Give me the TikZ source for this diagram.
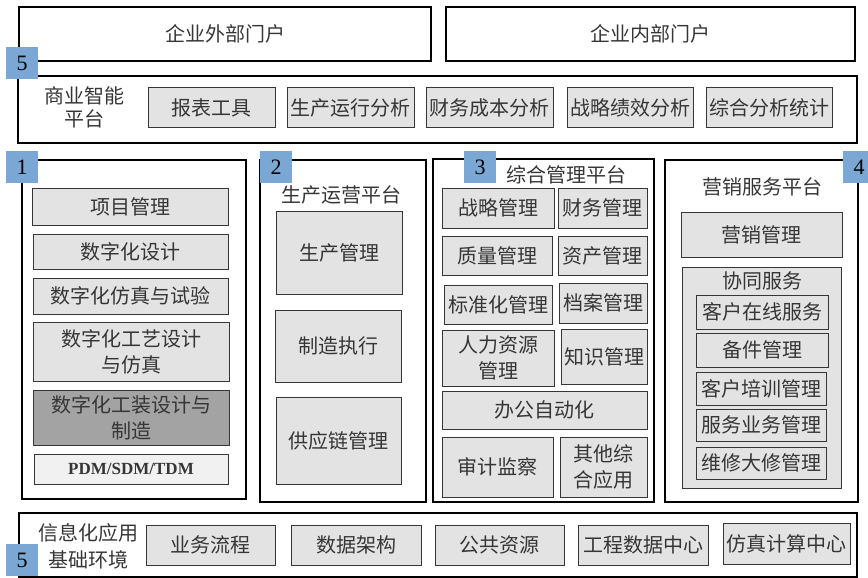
\documentclass[tikz,border=0pt]{standalone}
\usepackage{fontspec}
\setmainfont{Liberation Serif}
\newfontfamily\cjk{Noto Sans CJK SC}
\definecolor{badgeblue}{HTML}{7BA7D5}
\definecolor{itemgray}{HTML}{E3E3E3}
\definecolor{darkgray}{HTML}{A3A3A3}
\definecolor{inkgray}{HTML}{363636}

\begin{document}
\begin{tikzpicture}[x=1pt,y=-1pt,inner sep=0pt,
  frame/.style={draw=black,line width=2pt},
  portal/.style={draw=black,line width=1.3pt,font=\cjk\fontsize{20}{23}\selectfont,text=inkgray},
  item/.style={draw=inkgray,line width=1pt,fill=itemgray,align=center,
    font=\cjk\fontsize{20}{26}\selectfont,text=inkgray},
  label/.style={align=center,font=\cjk\fontsize{20}{25}\selectfont,text=inkgray},
  badge/.style={fill=badgeblue,minimum size=32pt,font=\fontsize{22}{22}\selectfont}]
  \useasboundingbox (0,0) rectangle (868,578);
  % portals
  \node[portal,minimum width=412pt,minimum height=54pt] (outer) at (225,34) {企业外部门户};
  \node[portal,minimum width=409pt,minimum height=54pt] (inner) at (650.5,34) {企业内部门户};
  % business intelligence
  \node[frame,minimum width=839pt,minimum height=67pt] (bi) at (437.5,109.5) {};
  \node[badge] (b5top) at (22,63.5) {5};
  \node[label,font=\cjk\fontsize{20}{23}\selectfont] (bi label) at (85,107) {商业智能\\平台};
  \node[item,minimum width=127pt,minimum height=39pt] (bi1) at (211.5,107.5) {报表工具};
  \node[item,minimum width=127pt,minimum height=39pt] (bi2) at (350.5,107.5) {生产运行分析};
  \node[item,minimum width=127pt,minimum height=39pt] (bi3) at (489.5,107.5) {财务成本分析};
  \node[item,minimum width=126pt,minimum height=39pt] (bi4) at (630,107.5) {战略绩效分析};
  \node[item,minimum width=126pt,minimum height=39pt] (bi5) at (769,107.5) {综合分析统计};
  % platform 1
  \node[frame,minimum width=224pt,minimum height=339pt] (p1) at (134,329.5) {};
  \node[badge] (b1) at (22,167) {1};
  \node[item,minimum width=196pt,minimum height=37pt] (p1a) at (130,206.5) {项目管理};
  \node[item,minimum width=195pt,minimum height=35pt] (p1b) at (130.5,251.5) {数字化设计};
  \node[item,minimum width=195pt,minimum height=36pt] (p1c) at (130.5,296) {数字化仿真与试验};
  \node[item,minimum width=196pt,minimum height=59pt] (p1d) at (131,351.5) {数字化工艺设计\\与仿真};
  \node[item,fill=darkgray,minimum width=196pt,minimum height=55pt] (p1e) at (131,417.5) {数字化工装设计与\\制造};
  \node[item,fill=itemgray!50,minimum width=194pt,minimum height=30pt,
    font=\bfseries\fontsize{17}{17}\selectfont] (p1f) at (131,469) {PDM/SDM/TDM};
  % platform 2
  \node[frame,minimum width=166pt,minimum height=342pt] (p2) at (343,331) {};
  \node[badge] (b2) at (276,167) {2};
  \node[label] (p2 title) at (341,195) {生产运营平台};
  \node[item,minimum width=126pt,minimum height=83pt] (p2a) at (339,252.5) {生产管理};
  \node[item,minimum width=126pt,minimum height=72pt] (p2b) at (338,346) {制造执行};
  \node[item,minimum width=125pt,minimum height=87pt] (p2c) at (338.5,440.5) {供应链管理};
  % platform 3
  \node[frame,minimum width=221pt,minimum height=343pt] (p3) at (543.5,330.5) {};
  \node[badge] (b3) at (480,167) {3};
  \node[label] (p3 title) at (566,175) {综合管理平台};
  \node[item,minimum width=112pt,minimum height=40pt] (p3a) at (498,208) {战略管理};
  \node[item,minimum width=89pt,minimum height=40pt] (p3b) at (602.5,208) {财务管理};
  \node[item,minimum width=110pt,minimum height=39pt] (p3c) at (497,255.5) {质量管理};
  \node[item,minimum width=89pt,minimum height=39pt] (p3d) at (602.5,255.5) {资产管理};
  \node[item,minimum width=108pt,minimum height=39pt] (p3e) at (498,304.5) {标准化管理};
  \node[item,minimum width=88pt,minimum height=40pt] (p3f) at (603,303) {档案管理};
  \node[item,minimum width=112pt,minimum height=56pt] (p3g) at (498,358) {人力资源\\管理};
  \node[item,minimum width=86pt,minimum height=55pt] (p3h) at (604,356.5) {知识管理};
  \node[item,minimum width=205pt,minimum height=38pt] (p3i) at (544.5,410) {办公自动化};
  \node[item,minimum width=111pt,minimum height=60pt] (p3j) at (497.5,467) {审计监察};
  \node[item,minimum width=87pt,minimum height=60pt] (p3k) at (603.5,467) {其他综\\合应用};
  % platform 4
  \node[frame,minimum width=193pt,minimum height=342pt] (p4) at (761.5,331) {};
  \node[badge] (b4) at (859,167) {4};
  \node[label] (p4 title) at (762,187) {营销服务平台};
  \node[item,minimum width=161pt,minimum height=45pt] (p4a) at (761.5,234.5) {营销管理};
  \node[item,minimum width=159pt,minimum height=221pt] (coop) at (761.5,377.5) {};
  \node[label] (coop title) at (762,281) {协同服务};
  \node[item,minimum width=132pt,minimum height=34pt] (c1) at (762,312) {客户在线服务};
  \node[item,minimum width=132pt,minimum height=34pt] (c2) at (762,350) {备件管理};
  \node[item,minimum width=130pt,minimum height=33pt] (c3) at (761,388.5) {客户培训管理};
  \node[item,minimum width=130pt,minimum height=32pt] (c4) at (761,425) {服务业务管理};
  \node[item,minimum width=130pt,minimum height=32pt] (c5) at (761,463) {维修大修管理};
  % infrastructure
  \node[frame,minimum width=838pt,minimum height=64pt] (base) at (438,545) {};
  \node[label,font=\cjk\fontsize{20}{27}\selectfont] (base label) at (88,546) {信息化应用\\基础环境};
  \node[badge] (b5bot) at (22,560) {5};
  \node[item,minimum width=129pt,minimum height=40pt] (e1) at (210.5,545) {业务流程};
  \node[item,minimum width=130pt,minimum height=40pt] (e2) at (356,545) {数据架构};
  \node[item,minimum width=129pt,minimum height=40pt] (e3) at (499.5,545) {公共资源};
  \node[item,minimum width=130pt,minimum height=40pt] (e4) at (643,545) {工程数据中心};
  \node[item,minimum width=127pt,minimum height=41pt] (e5) at (786.5,543.5) {仿真计算中心};
\end{tikzpicture}
\end{document}
